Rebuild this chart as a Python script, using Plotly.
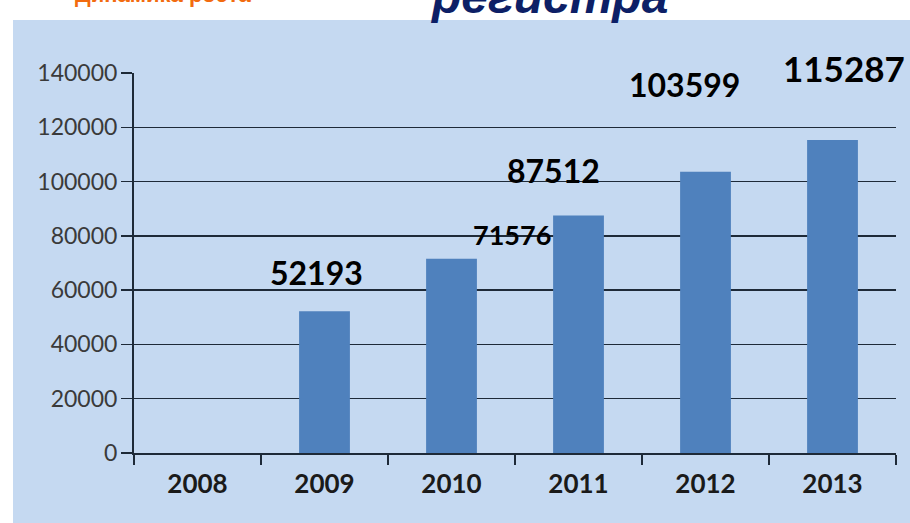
import plotly.graph_objects as go

years = ["2008", "2009", "2010", "2011", "2012", "2013"]
values = [None, 52193, 71576, 87512, 103599, 115287]
labels = ["", "52193", "71576", "87512", "103599", "115287"]
label_dx = [0, -8, 60, -25, -21, 11]
label_dy = [0, 39, 24, 45, 87, 72]
label_size = [32, 32, 27, 32, 32, 35]
y_ticks = [0, 20000, 40000, 60000, 80000, 100000, 120000, 140000]

W, H = 910, 523
ml, mr, mt, mb = 134, 14, 73, 70
pw, ph = W - ml - mr, H - mt - mb

fig = go.Figure()
fig.add_trace(go.Bar(
    x=years, y=values,
    marker=dict(color="#4f81bd", line=dict(width=0)),
    hoverinfo="skip",
))

annotations = []
for i, (v, t, dx, dy, fs) in enumerate(zip(values, labels, label_dx, label_dy, label_size)):
    if v is None:
        continue
    annotations.append(dict(
        x=i, y=v, xref="x", yref="y", text="<b>" + t + "</b>",
        showarrow=False, xanchor="center", yanchor="middle",
        xshift=dx, yshift=dy,
        font=dict(family="Lato, 'Open Sans', sans-serif", size=fs, color="#000000"),
    ))

# Title (cut off at the top)
annotations.append(dict(
    x=(549 - ml) / pw, y=(H - mb - 14) / ph, xref="paper", yref="paper",
    text="<b><i>регистра</i></b>", showarrow=False,
    xanchor="center", yanchor="bottom", yshift=-11,
    font=dict(family="Liberation Sans, Arial, sans-serif", size=48, color="#0d1f66"),
))
# Orange heading text, mostly cut off
annotations.append(dict(
    x=(163 - ml) / pw, y=(H - mb - 9) / ph, xref="paper", yref="paper",
    text="<b>Динамика роста</b>", showarrow=False,
    xanchor="center", yanchor="bottom",
    font=dict(family="Liberation Sans, Arial, sans-serif", size=22, color="#f26b0f"),
))

shapes = [dict(
    type="rect", xref="paper", yref="paper", layer="below",
    x0=(13 - ml) / pw, x1=(W - ml + 5) / pw,
    y0=-(mb + 5) / ph, y1=(H - mb - 20) / ph,
    fillcolor="#c5d9f1", line=dict(width=0),
)]

fig.update_layout(
    width=W, height=H,
    margin=dict(l=ml, r=mr, t=mt, b=mb, autoexpand=False),
    paper_bgcolor="#ffffff",
    plot_bgcolor="rgba(0,0,0,0)",
    showlegend=False,
    bargap=0.6,
    annotations=annotations,
    shapes=shapes,
    xaxis=dict(
        type="category", categoryorder="array", categoryarray=years,
        range=[-0.5, len(years) - 0.5], automargin=False,
        showgrid=False, showline=True, linecolor="#1e2a38", linewidth=2,
        ticks="outside", tickson="boundaries", ticklen=10, tickwidth=2, tickcolor="#1e2a38",
        tickfont=dict(family="Lato, sans-serif", size=26, color="#1a1a1a", weight="bold"),
        tickangle=0, ticklabelstandoff=7,
        zeroline=False, fixedrange=True,
    ),
    yaxis=dict(
        range=[0, 140000], tickvals=y_ticks, ticktext=[str(v) for v in y_ticks],
        automargin=False,
        showgrid=True, gridcolor="#1e2a38", gridwidth=1.5,
        showline=True, linecolor="#1e2a38", linewidth=2,
        ticks="outside", ticklen=11, tickwidth=1.5, tickcolor="#1e2a38",
        tickfont=dict(family="Lato, sans-serif", size=23, color="#3a3a3a"),
        zeroline=False, fixedrange=True, ticklabelstandoff=-1,
    ),
)

fig.write_html(
    "out.html",
    config={"displayModeBar": False, "staticPlot": True},
    post_script="document.body.style.margin='0';document.body.style.overflow='hidden';",
)
